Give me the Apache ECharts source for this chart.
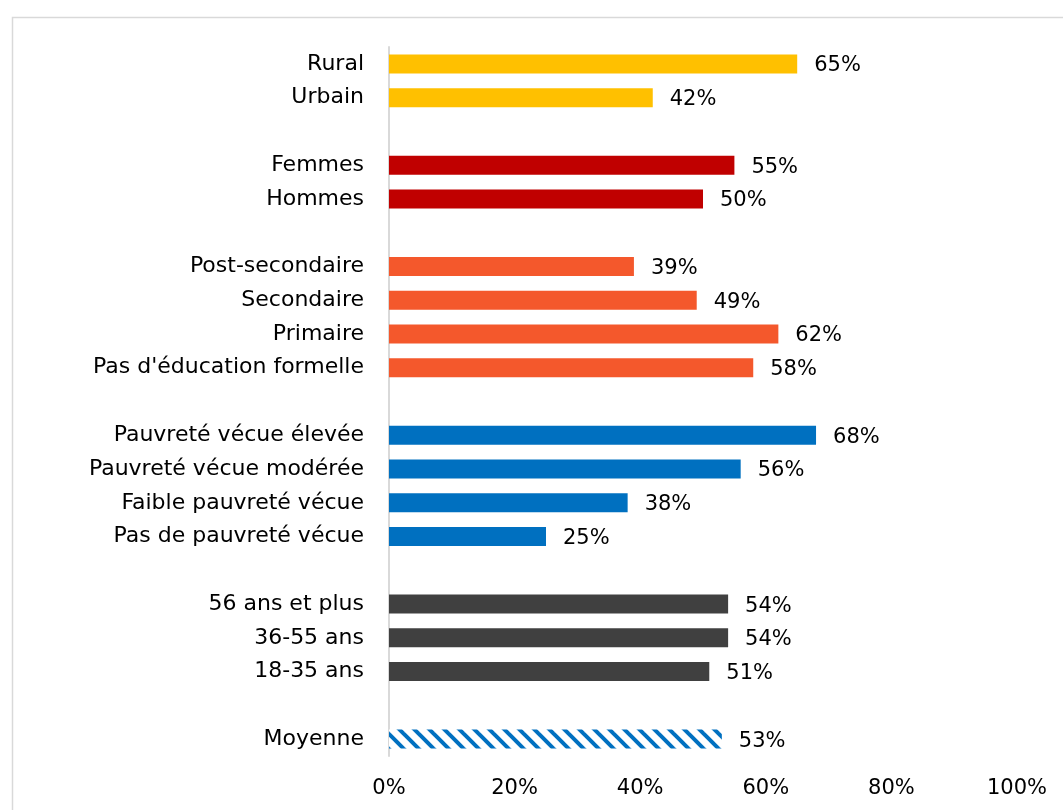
<!DOCTYPE html>
<html>
<head>
<meta charset="utf-8">
<script src="https://cdn.jsdelivr.net/npm/echarts@6/dist/echarts.min.js"></script>
<style>
  html, body { margin: 0; padding: 0; background: #fff; }
  #chart { width: 1063px; height: 810px; }
</style>
</head>
<body>
<div id="chart"></div>
<script>
// categories top to bottom, '' = blank spacer row between groups
var categories = [
  'Rural', 'Urbain', '',
  'Femmes', 'Hommes', '',
  'Post-secondaire', 'Secondaire', 'Primaire', "Pas d'éducation formelle", '',
  'Pauvreté vécue élevée', 'Pauvreté vécue modérée', 'Faible pauvreté vécue', 'Pas de pauvreté vécue', '',
  '56 ans et plus', '36-55 ans', '18-35 ans', '',
  'Moyenne'
];
var values = [
  65, 42, null,
  55, 50, null,
  39, 49, 62, 58, null,
  68, 56, 38, 25, null,
  54, 54, 51, null,
  53
];
// group of each row, used to pick the colour
var groups = [
  'milieu', 'milieu', '',
  'sexe', 'sexe', '',
  'educ', 'educ', 'educ', 'educ', '',
  'pauv', 'pauv', 'pauv', 'pauv', '',
  'age', 'age', 'age', '',
  'moy'
];
var xTicks = [0, 20, 40, 60, 80, 100];

// hatched fill for the average bar
function stripes() {
  var s = 15;
  var c = document.createElement('canvas');
  c.width = s; c.height = s;
  var ctx = c.getContext('2d');
  ctx.fillStyle = '#fff';
  ctx.fillRect(0, 0, s, s);
  ctx.strokeStyle = '#0070C0';
  ctx.lineWidth = 4;
  for (var k = -1; k <= 1; k++) {
    ctx.beginPath();
    ctx.moveTo(k * s - 2, -2);
    ctx.lineTo(k * s + s + 2, s + 2);
    ctx.stroke();
  }
  return { image: c, repeat: 'repeat' };
}

var groupColor = {
  milieu: '#FFC000',
  sexe: '#C00000',
  educ: '#F4582C',
  pauv: '#0070C0',
  age: '#404040',
  moy: stripes()
};

var data = values.map(function (v, i) {
  if (v == null) return '-';
  return { value: v, itemStyle: { color: groupColor[groups[i]] } };
});

var font = 'DejaVu Sans';
var chart = echarts.init(document.getElementById('chart'));
chart.setOption({
  animation: false,
  backgroundColor: '#fff',
  graphic: [{
    type: 'rect',
    shape: { x: 12.5, y: 17.5, width: 1100, height: 900 },
    style: { fill: null, stroke: '#D9D9D9', lineWidth: 1.5 },
    silent: true
  }],
  grid: { left: 389, right: 46, top: 47, bottom: 54 },
  xAxis: {
    type: 'value',
    min: 0, max: 100, interval: 20,
    axisLine: { show: false },
    axisTick: { show: false },
    splitLine: { show: false },
    axisLabel: {
      margin: 22,
      fontFamily: font, fontSize: 21, color: '#000',
      formatter: function (v) { return xTicks.indexOf(v) >= 0 ? v + '%' : ''; }
    }
  },
  yAxis: {
    type: 'category',
    inverse: true,
    data: categories,
    axisLine: { show: true, lineStyle: { color: '#D9D9D9', width: 2 } },
    axisTick: { show: false },
    axisLabel: { margin: 25, fontFamily: font, fontSize: 22, color: '#000' }
  },
  series: [{
    type: 'bar',
    data: data,
    barWidth: 19,
    label: {
      show: true,
      position: 'right',
      distance: 17,
      offset: [0, 2],
      fontFamily: font, fontSize: 21, color: '#000',
      formatter: '{c}%'
    }
  }]
});
</script>
</body>
</html>
